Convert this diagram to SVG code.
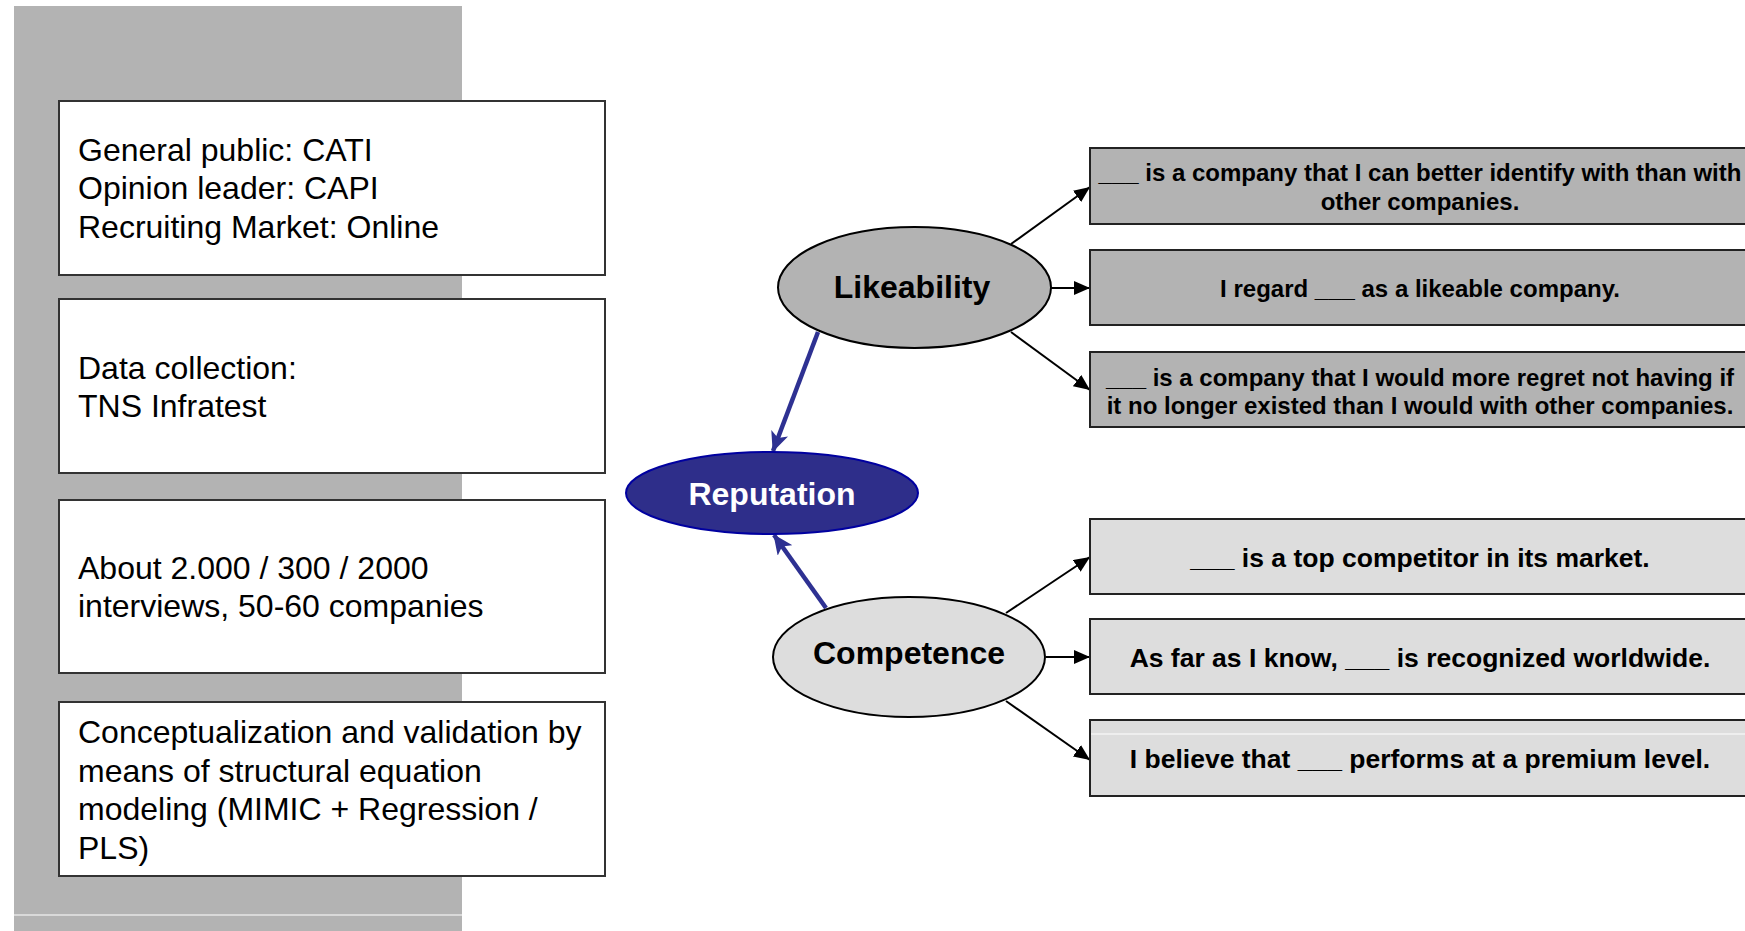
<svg xmlns="http://www.w3.org/2000/svg" width="1745" height="931" viewBox="0 0 1745 931">
<defs>
<style>
.panel{fill:#b3b3b3}
.lbox{fill:#ffffff;stroke:#333333;stroke-width:2}
.ltxt{font-family:"Liberation Sans",Arial,sans-serif;font-size:32px;fill:#000000}
.rboxA{fill:#b3b3b3;stroke:#222222;stroke-width:2}
.rboxB{fill:#dddddd;stroke:#222222;stroke-width:2}
.rtxt{font-family:"Liberation Sans",Arial,sans-serif;font-size:24px;font-weight:bold;fill:#000000;text-anchor:middle}
.rtxtB{font-size:26.5px}
.etxt{font-family:"Liberation Sans",Arial,sans-serif;font-size:32px;font-weight:bold;text-anchor:middle}
.blk{stroke:#000000;stroke-width:2;fill:none}
.blu{stroke:#2e3192;stroke-width:4.5;fill:none}
</style>
<marker id="ab" markerUnits="userSpaceOnUse" markerWidth="16" markerHeight="14" refX="16" refY="7" orient="auto">
<path d="M0,0 L16,7 L0,14 Z" fill="#000000"/>
</marker>
<marker id="au" markerUnits="userSpaceOnUse" markerWidth="20" markerHeight="18" refX="19" refY="9" orient="auto">
<path d="M0,0 L20,9 L0,18 L5,9 Z" fill="#2e3192"/>
</marker>
</defs>
<rect class="panel" x="14" y="6" width="448" height="925"/>
<line x1="14" y1="915" x2="462" y2="915" stroke="#ffffff" stroke-width="1"/>
<g id="box-method">
<rect class="lbox" x="59" y="101" width="546" height="174"/>
<text class="ltxt" x="78" y="161">General public: CATI</text>
<text class="ltxt" x="78" y="199">Opinion leader: CAPI</text>
<text class="ltxt" x="78" y="238">Recruiting Market: Online</text>
</g>
<g id="box-data">
<rect class="lbox" x="59" y="299" width="546" height="174"/>
<text class="ltxt" x="78" y="379">Data collection:</text>
<text class="ltxt" x="78" y="417">TNS Infratest</text>
</g>
<g id="box-sample">
<rect class="lbox" x="59" y="500" width="546" height="173"/>
<text class="ltxt" x="78" y="579">About 2.000 / 300 / 2000</text>
<text class="ltxt" x="78" y="617">interviews, 50-60 companies</text>
</g>
<g id="box-model">
<rect class="lbox" x="59" y="702" width="546" height="174"/>
<text class="ltxt" x="78" y="743">Conceptualization and validation by</text>
<text class="ltxt" x="78" y="782">means of structural equation</text>
<text class="ltxt" x="78" y="820">modeling (MIMIC + Regression /</text>
<text class="ltxt" x="78" y="859">PLS)</text>
</g>
<g id="connectors">
<line class="blk" x1="1011" y1="244" x2="1090" y2="187" marker-end="url(#ab)"/>
<line class="blk" x1="1051" y1="288" x2="1090" y2="288" marker-end="url(#ab)"/>
<line class="blk" x1="1011" y1="332" x2="1090" y2="390" marker-end="url(#ab)"/>
<line class="blk" x1="1006" y1="613" x2="1090" y2="557" marker-end="url(#ab)"/>
<line class="blk" x1="1046" y1="657" x2="1090" y2="657" marker-end="url(#ab)"/>
<line class="blk" x1="1006" y1="701" x2="1090" y2="760" marker-end="url(#ab)"/>
<line class="blu" x1="818" y1="332" x2="773" y2="451" marker-end="url(#au)"/>
<line class="blu" x1="826" y1="608" x2="774" y2="535" marker-end="url(#au)"/>
</g>
<g id="node-likeability">
<ellipse cx="914.5" cy="287.5" rx="136.5" ry="60.5" fill="#b3b3b3" stroke="#000000" stroke-width="2"/>
<text class="etxt" x="912" y="298" fill="#000000">Likeability</text>
</g>
<g id="node-reputation">
<ellipse cx="772" cy="493" rx="146" ry="41" fill="#2e2e8a" stroke="#0000a0" stroke-width="2"/>
<text class="etxt" x="772" y="505" fill="#ffffff">Reputation</text>
</g>
<g id="node-competence">
<ellipse cx="909" cy="657" rx="136" ry="60" fill="#dddddd" stroke="#000000" stroke-width="2"/>
<text class="etxt" x="909" y="664" fill="#000000">Competence</text>
</g>
<g id="item-l1">
<rect class="rboxA" x="1090" y="148" width="662" height="76"/>
<text class="rtxt" x="1420" y="181">___ is a company that I can better identify with than with</text>
<text class="rtxt" x="1420" y="210">other companies.</text>
</g>
<g id="item-l2">
<rect class="rboxA" x="1090" y="250" width="662" height="75"/>
<text class="rtxt" x="1420" y="297">I regard ___ as a likeable company.</text>
</g>
<g id="item-l3">
<rect class="rboxA" x="1090" y="352" width="662" height="75"/>
<text class="rtxt" x="1420" y="386">___ is a company that I would more regret not having if</text>
<text class="rtxt" x="1420" y="414">it no longer existed than I would with other companies.</text>
</g>
<g id="item-c1">
<rect class="rboxB" x="1090" y="519" width="662" height="75"/>
<text class="rtxt rtxtB" x="1420" y="567">___ is a top competitor in its market.</text>
</g>
<g id="item-c2">
<rect class="rboxB" x="1090" y="619" width="662" height="75"/>
<text class="rtxt rtxtB" x="1420" y="667">As far as I know, ___ is recognized worldwide.</text>
</g>
<g id="item-c3">
<rect class="rboxB" x="1090" y="720" width="662" height="76"/>
<line x1="1091" y1="734" x2="1745" y2="734" stroke="#ffffff" stroke-width="1"/>
<text class="rtxt rtxtB" x="1420" y="768">I believe that ___ performs at a premium level.</text>
</g>
</svg>
